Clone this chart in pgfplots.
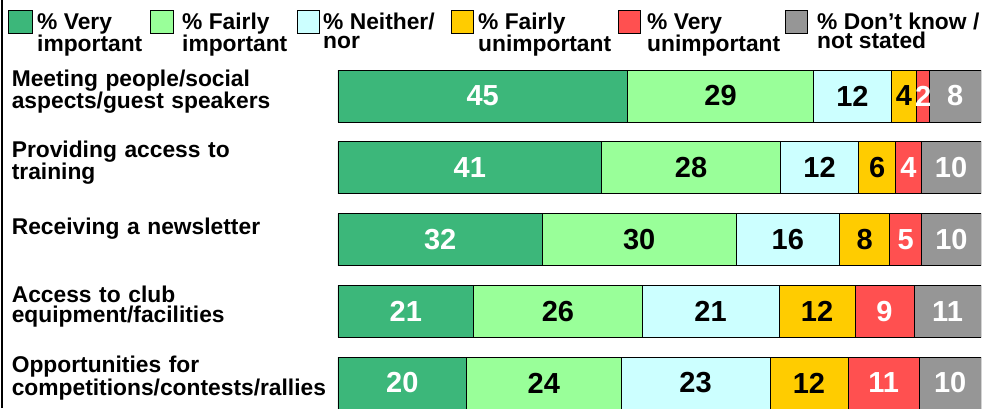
\documentclass[border=0pt]{standalone}
\usepackage{pgfplots}
\pgfplotsset{compat=1.18}
\usepackage{pgfplotstable}
\usepackage{fontspec}
\setmainfont{Liberation Sans}
\definecolor{cVI}{HTML}{3CB77A}
\definecolor{cFI}{HTML}{99FF99}
\definecolor{cNN}{HTML}{CCFFFF}
\definecolor{cFU}{HTML}{FFCC00}
\definecolor{cVU}{HTML}{FF5050}
\definecolor{cDK}{HTML}{969696}

\pgfplotstableread{
y  a    la  b    lb  c    lc  d    ld  e    le  f    lf
4  45   45  29   29  12   12  4    4   2    2   8    8
3  41   41  27.8 28  12.2 12  5.7  6   4.0  4   9.3  10
2  31.8 32  30.1 30  16.1 16  7.8  8   5.0  5   9.2  10
1  21.1 21  26.2 26  21.3 21  11.8 12  9.2  9   10.4 11
0  20   20  24   24  23.2 23  12.1 12  11.1 11  9.6  10
}\data

\begin{document}
\begin{tikzpicture}[x=1pt,y=1pt]
\begin{axis}[
  at={(338pt,0pt)}, anchor=south west,
  scale only axis, width=643pt, height=348pt,
  xbar stacked, bar width=52pt,
  xmin=0, xmax=100, ymin=-0.3484, ymax=4.502,
  enlargelimits=false,
  axis line style={draw=none},
  major tick length=0pt,
  xtick=\empty,
  ytick={0.07,1.07,2.15,3.07,4.06},
  yticklabels={{Opportunities for\\competitions/contests/rallies},
               {Access to club\\equipment/facilities},
               {Receiving a newsletter},
               {Providing access to\\training},
               {Meeting people/social\\aspects/guest speakers}},
  yticklabel style={font=\fontsize{22.8}{20}\selectfont\bfseries, text width=322pt,
     align=left, anchor=east, inner sep=0pt, xshift=-4pt},
  point meta=explicit symbolic,
  nodes near coords,
  every node near coord/.append style={anchor=center,
     font=\fontsize{29}{29}\selectfont\bfseries},
  every axis plot/.append style={draw=black, line width=0.8pt},
]
\addplot[fill=cVI, every node near coord/.append style={text=white}] table[x=a,y=y,meta=la]{\data};
\addplot[fill=cFI, every node near coord/.append style={text=black}] table[x=b,y=y,meta=lb]{\data};
\addplot[fill=cNN, every node near coord/.append style={text=black}] table[x=c,y=y,meta=lc]{\data};
\addplot[fill=cFU, every node near coord/.append style={text=black}] table[x=d,y=y,meta=ld]{\data};
\addplot[fill=cVU, every node near coord/.append style={text=white}] table[x=e,y=y,meta=le]{\data};
\addplot[fill=cDK, every node near coord/.append style={text=white}] table[x=f,y=y,meta=lf]{\data};
\end{axis}
% frame line at left
\draw[line width=1.6pt] (2,0) -- (2,408);
% legend
\tikzset{lgbox/.style={draw=black, line width=0.8pt},
  lgtxt/.style={anchor=north west, inner sep=0pt, align=left,
    font=\fontsize{22.8}{18.5}\selectfont\bfseries}}
\filldraw[lgbox, fill=cVI] (8,398) rectangle (32,375);
\node[lgtxt] at (37,395) {\% Very\\important};
\filldraw[lgbox, fill=cFI] (150,398) rectangle (173,375);
\node[lgtxt] at (182,395) {\% Fairly\\important};
\filldraw[lgbox, fill=cNN] (297,398) rectangle (319,375);
\node[lgtxt] at (323,395) {\% Neither/\\nor};
\filldraw[lgbox, fill=cFU] (451,398) rectangle (473,375);
\node[lgtxt] at (478,395) {\% Fairly\\unimportant};
\filldraw[lgbox, fill=cVU] (618,398) rectangle (640,375);
\node[lgtxt] at (647,395) {\% Very\\unimportant};
\filldraw[lgbox, fill=cDK] (785,398) rectangle (807,375);
\node[lgtxt] at (817,395) {\% Don’t know /\\not stated};
\pgfresetboundingbox
\path (0,0) rectangle (985,408);
\end{tikzpicture}
\end{document}
